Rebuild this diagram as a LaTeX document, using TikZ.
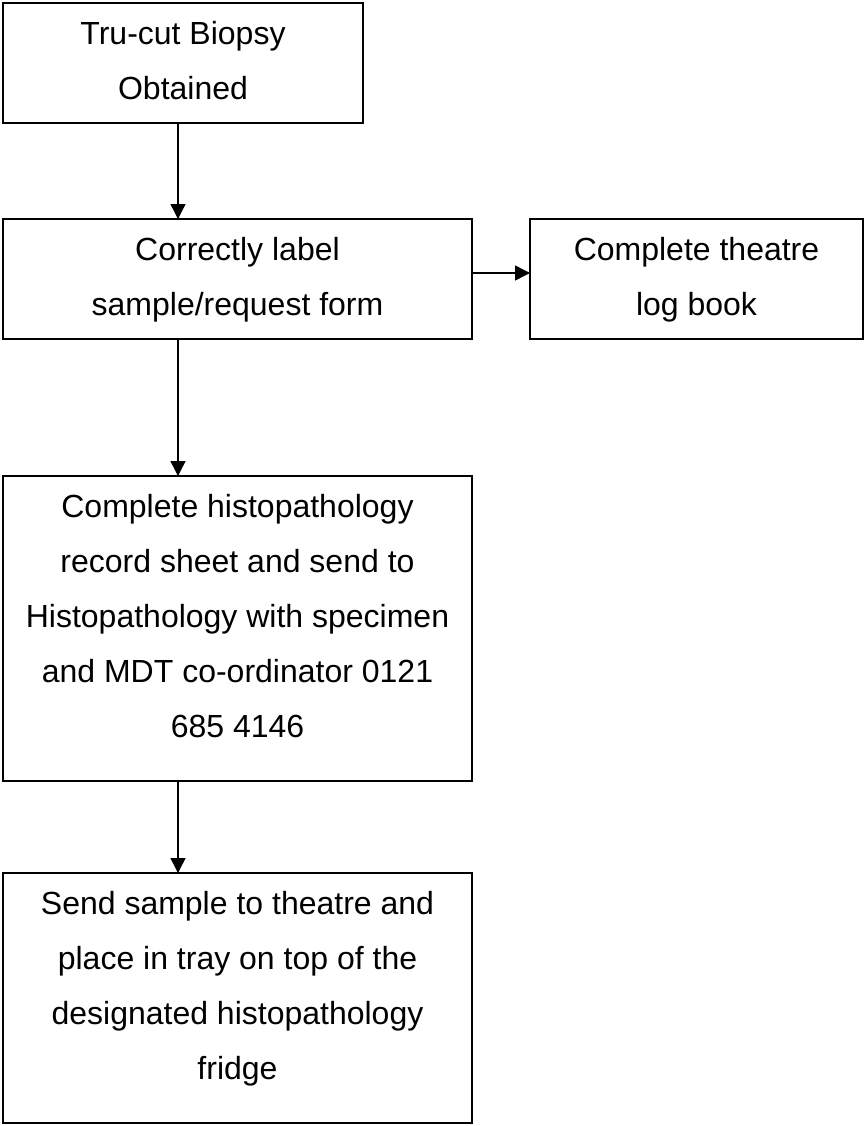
\documentclass[tikz,border=0pt]{standalone}
\usepackage{fontspec}
\setmainfont{Liberation Sans}
\usetikzlibrary{arrows.meta}

% Box content: fixed-size minipage, text top-aligned and centred
\newcommand{\flowtext}[3]{%
  \begin{minipage}[t][#2][t]{#1}\centering
    \fontsize{32pt}{55pt}\selectfont\rule{0pt}{41.5pt}#3%
  \end{minipage}}

\begin{document}
\begin{tikzpicture}[x=1pt,y=-1pt,
  flowbox/.style={draw=black,line width=1.6pt,inner sep=0pt,outer sep=0pt,fill=white},
  arr/.style={draw=black,line width=1.4pt,-{Triangle[length=15pt,width=15pt]}}]
  \useasboundingbox (0,0) rectangle (865,1126);
  \fill[white] (0,0) rectangle (865,1126);

  \node[flowbox] (biopsy) at (183,63)
    {\flowtext{360pt}{120pt}{Tru-cut Biopsy\\Obtained}};
  \node[flowbox] (label) at (237.5,279)
    {\flowtext{469pt}{120pt}{Correctly label\\sample/request form}};
  \node[flowbox] (logbook) at (696.5,279)
    {\flowtext{333pt}{120pt}{Complete theatre\\log book}};
  \node[flowbox] (record) at (237.5,628.5)
    {\flowtext{469pt}{305pt}{Complete histopathology\\record sheet and send to\\Histopathology with specimen\\and MDT co-ordinator 0121\\685 4146}};
  \node[flowbox] (fridge) at (237.5,998)
    {\flowtext{469pt}{250pt}{Send sample to theatre and\\place in tray on top of the\\designated histopathology\\fridge}};

  % connector guides
  \coordinate (spine) at (178,0);
  \coordinate (side) at (0,273);

  \draw[arr] (biopsy.south -| spine) -- (label.north -| spine);
  \draw[arr] (label.east |- side) -- (logbook.west |- side);
  \draw[arr] (label.south -| spine) -- (record.north -| spine);
  \draw[arr] (record.south -| spine) -- (fridge.north -| spine);
\end{tikzpicture}
\end{document}
